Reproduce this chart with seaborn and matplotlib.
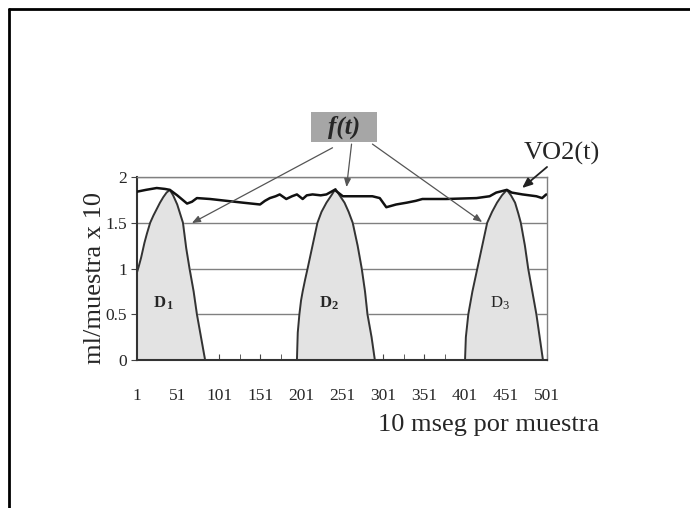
import numpy as np
import pandas as pd
import matplotlib
matplotlib.use('Agg')
import matplotlib.pyplot as plt
from matplotlib.lines import Line2D
from matplotlib.patches import Rectangle
import seaborn as sns

# VO2(t) curve (sample, ml/muestra x 10)
vo2_x = [1, 12, 25, 35, 41, 50, 62, 68, 74, 90, 110, 130, 151, 157, 163, 170, 175,
         183, 190, 196, 203, 208, 215, 225, 232, 242, 252, 262, 272, 288, 297, 305,
         317, 330, 341, 349, 378, 415, 431, 439, 452, 458, 471, 488, 495, 500]
vo2_y = [1.84, 1.86, 1.88, 1.87, 1.86, 1.80, 1.71, 1.73, 1.77, 1.76, 1.74, 1.72, 1.70,
         1.74, 1.77, 1.79, 1.81, 1.76, 1.79, 1.81, 1.76, 1.80, 1.81, 1.80, 1.81, 1.86,
         1.79, 1.79, 1.79, 1.79, 1.77, 1.67, 1.70, 1.72, 1.74, 1.76, 1.76, 1.77, 1.79,
         1.83, 1.86, 1.83, 1.81, 1.79, 1.77, 1.81]

# f(t) pulses D1, D2, D3
d1_x = [1, 3, 6, 10, 13, 17, 21, 25, 29, 33, 37, 41, 45, 50, 57, 61, 65, 70, 74, 79, 84]
d1_y = [0.96, 1.02, 1.12, 1.28, 1.38, 1.50, 1.58, 1.65, 1.72, 1.78, 1.83, 1.86, 1.80,
        1.70, 1.50, 1.22, 1.00, 0.75, 0.50, 0.25, 0.0]
d2_x = [196, 197, 199, 201, 203, 206, 209, 215, 221, 226, 232, 238, 243, 248, 254, 259,
        264, 270, 275, 279, 282, 287, 291]
d2_y = [0.0, 0.3, 0.5, 0.65, 0.75, 0.88, 1.0, 1.25, 1.5, 1.62, 1.72, 1.80, 1.87, 1.80,
        1.72, 1.62, 1.50, 1.25, 1.0, 0.75, 0.5, 0.25, 0.0]
d3_x = [401, 402, 405, 410, 416, 422, 428, 434, 440, 446, 452, 457, 462, 466, 469, 474,
        478, 483, 488, 492, 496]
d3_y = [0.0, 0.25, 0.5, 0.75, 1.0, 1.25, 1.5, 1.62, 1.72, 1.80, 1.86, 1.80, 1.72, 1.60,
        1.50, 1.25, 1.0, 0.75, 0.5, 0.25, 0.0]
pulse_names = ['D1', 'D2', 'D3']

x_ticks = list(range(1, 502, 50))
y_ticks = [0, 0.5, 1, 1.5, 2]
y_ticklabels = ['0', '0.5', '1', '1.5', '2']

sns.set_style('white')
plt.rcParams['font.family'] = ['Liberation Serif', 'DejaVu Serif']

fig = plt.figure(figsize=(6.9, 5.08), dpi=100)
ax = fig.add_axes([0.1986, 0.2913, 0.5942, 0.3602])

vo2 = pd.DataFrame({'x': vo2_x, 'y': vo2_y})
pulses = [pd.DataFrame({'x': px, 'y': py}) for px, py in [(d1_x, d1_y), (d2_x, d2_y), (d3_x, d3_y)]]

for i, p in enumerate(pulses):
    ax.fill_between(p['x'], p['y'], 0, color='#e3e3e3', zorder=2)
    sns.lineplot(data=p, x='x', y='y', sort=False, color='#333333', lw=1.4, ax=ax, zorder=3)
    tx = p['x'][p['y'].idxmax()] - 5
    ax.text(tx, 0.62, pulse_names[i][0], fontsize=12, fontweight='bold' if i < 2 else 'normal',
            ha='right', va='center', zorder=4)
    ax.text(tx, 0.59, pulse_names[i][1], fontsize=9, fontweight='bold' if i < 2 else 'normal',
            ha='left', va='center', zorder=4)

sns.lineplot(data=vo2, x='x', y='y', color='#111111', lw=1.8, ax=ax, zorder=5)

ax.set_xlim(1, 501)
ax.set_ylim(0, 2)
ax.set_xticks(x_ticks)
ax.set_xticks(range(26, 502, 50), minor=True)
ax.set_yticks(y_ticks)
ax.set_yticklabels(y_ticklabels)
ax.yaxis.grid(True, color='#808080', lw=1)
ax.set_axisbelow(True)
ax.tick_params(axis='x', which='both', direction='in', length=4, color='#444444',
               labelsize=12.5, pad=20, bottom=True)
ax.tick_params(axis='y', direction='out', length=4, color='#444444', labelsize=12.5, pad=3, left=True)
for s in ['left', 'bottom']:
    ax.spines[s].set_color('#333333')
    ax.spines[s].set_linewidth(1.5)
for s in ['top', 'right']:
    ax.spines[s].set_color('#808080')
    ax.spines[s].set_linewidth(1)
ax.set_xlabel('')
ax.set_ylabel('ml/muestra x 10', fontsize=19, labelpad=1)
ax.yaxis.set_label_coords(-0.075, 0.45)
fig.text(378 / 690, 1 - 425 / 508, '10 mseg por muestra', fontsize=19, ha='left', va='center')

# f(t) box with arrows
ax.add_patch(Rectangle((212.7, 2.38), 81.5, 0.33, facecolor='#a6a6a6', edgecolor='none',
                       clip_on=False, zorder=6))
ax.text(253.5, 2.545, 'f(t)', fontsize=18, fontweight='bold', fontstyle='italic',
        ha='center', va='center', clip_on=False, zorder=7)
arrow = dict(arrowstyle='-|>,head_length=0.5,head_width=0.2', color='#555555', lw=0.9,
             shrinkA=0, shrinkB=0)
for sx, sy, ex, ey in [(239.4, 2.32, 67.9, 1.497), (262.6, 2.36, 256.5, 1.89),
                       (288.1, 2.36, 421.9, 1.508)]:
    ax.annotate('', xy=(ex, ey), xytext=(sx, sy), arrowprops=arrow, annotation_clip=False, zorder=6)

ax.text(519, 2.26, 'VO2(t)', fontsize=19, ha='center', va='center', clip_on=False)
ax.annotate('', xy=(470.6, 1.88), xytext=(501, 2.11), annotation_clip=False,
            arrowprops=dict(arrowstyle='-|>,head_length=0.6,head_width=0.25', color='#222222',
                            lw=1.3, shrinkA=0, shrinkB=0))

# slide frame
fig.add_artist(Line2D([9 / 690, 1], [1 - 9 / 508, 1 - 9 / 508], color='black', lw=2))
fig.add_artist(Line2D([9 / 690, 9 / 690], [0, 1 - 9 / 508], color='black', lw=2))

fig.savefig('out.png', dpi=100)
